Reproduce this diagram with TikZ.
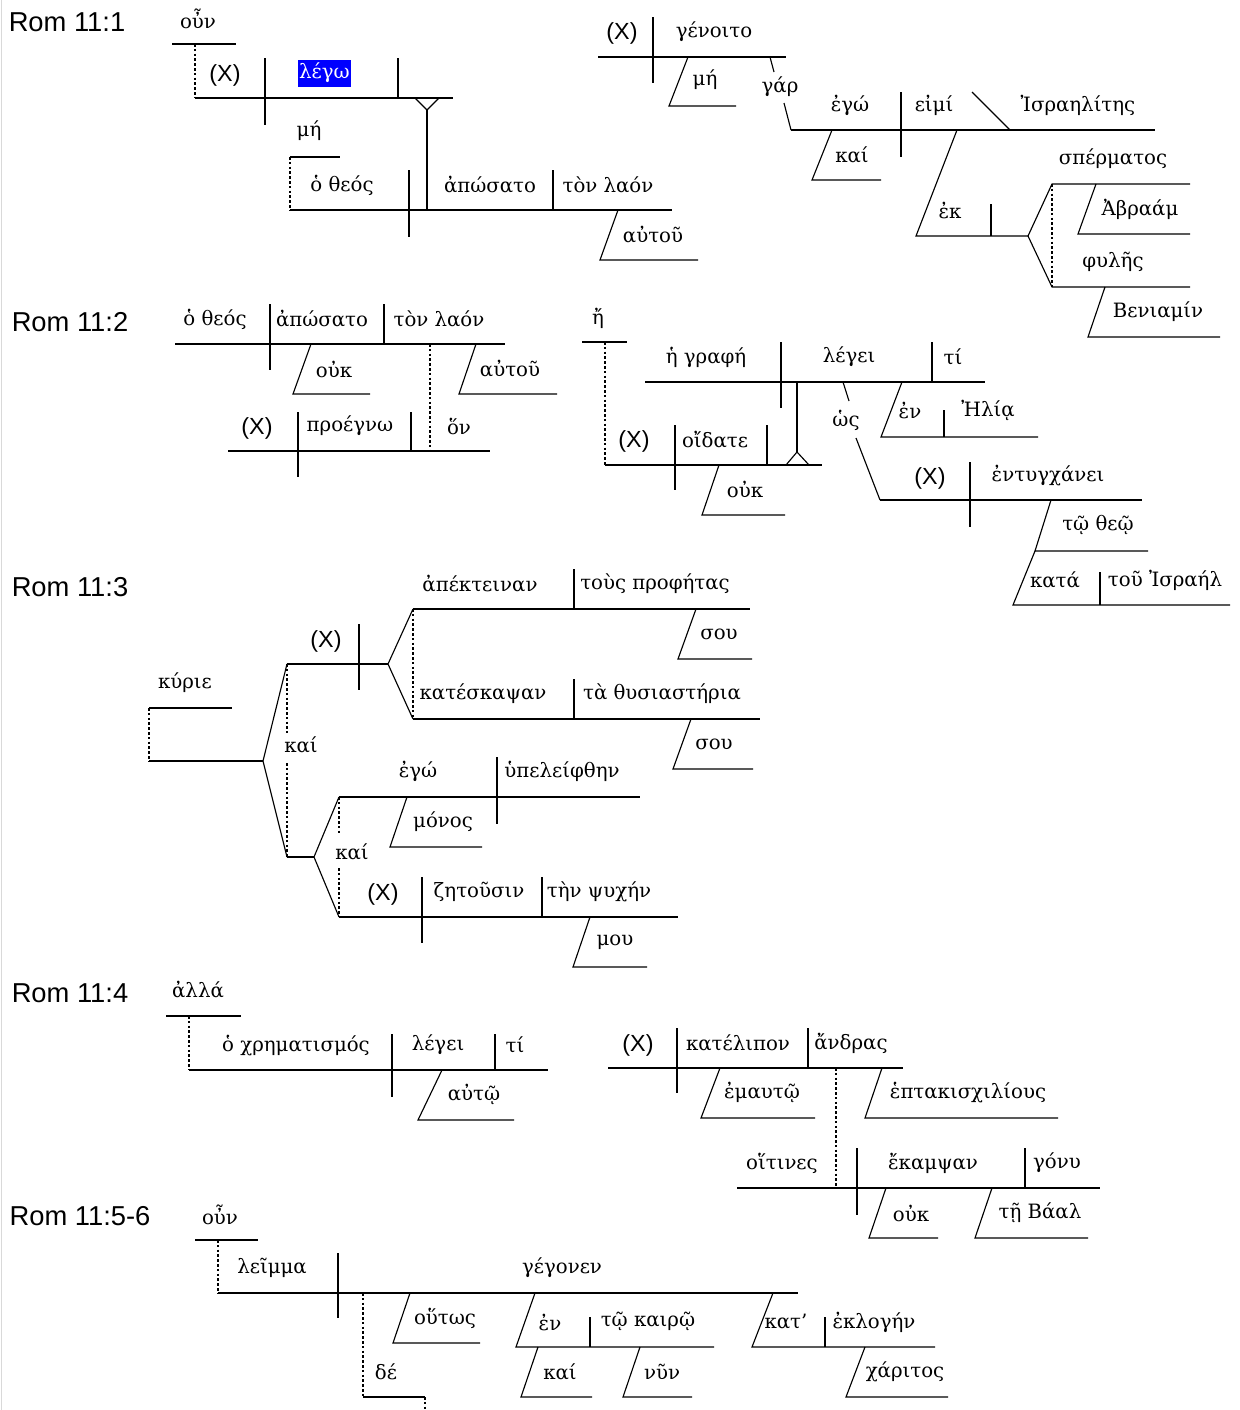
\documentclass[tikz,border=0pt]{standalone}
\usepackage{fontspec}
\newfontfamily\gkfont{DejaVu Serif}
\newfontfamily\labfont{Liberation Sans}
\begin{document}
\begin{tikzpicture}[x=0.75pt,y=-0.75pt,
  gk/.style={font=\gkfont\fontsize{14.8}{16}\selectfont, inner sep=0pt},
  lab/.style={font=\labfont\fontsize{20.5}{22}\selectfont, inner sep=0pt},
  xx/.style={font=\labfont\fontsize{17.5}{20}\selectfont, inner sep=0pt},
  ln/.style={line width=0.85pt},
  dl/.style={line width=0.85pt, dash pattern=on 2pt off 1.6pt}]
\useasboundingbox (0,0) rectangle (1239,1410);
\fill[white] (0,0) rectangle (1239,1410);
\draw[black!15, line width=0.8pt] (1.5,0) -- (1.5,1410);

% ================= Rom 11:1 left
\node[lab] (r1) at (67,22) {Rom 11:1};
\node[gk] (a1) at (198,19) {οὖν};
\draw[ln] (172,44) -- (236,44);
\draw[dl] (195,44) -- (195,98);
\draw[ln] (195,98) -- (453,98);
\node[xx] (a2) at (225,75) {(X)};
\draw[ln] (265,58) -- (265,125);
\fill[blue] (298,60) rectangle (351,87);
\node[gk, text=white] (a3) at (324.5,73) {λέγω};
\draw[ln] (398,58) -- (398,98);
\draw[ln] (415,98) -- (427,110) -- (439,98);
\draw[ln] (427,110) -- (427,210);
\node[gk] (a4) at (309,131) {μή};
\draw[ln] (290,157) -- (340,157);
\draw[dl] (290,157) -- (290,210);
\draw[ln] (290,210) -- (672,210);
\node[gk] (a5) at (342,185) {ὁ θεός};
\draw[ln] (409,170) -- (409,237);
\node[gk] (a6) at (490,185) {ἀπώσατο};
\draw[ln] (553,170) -- (553,210);
\node[gk] (a7) at (608,185) {τὸν λαόν};
\draw[ln] (618,210) -- (600,260) -- (698,260);
\node[gk] (a8) at (653,235) {αὐτοῦ};

% ================= Rom 11:1 right
\node[xx] (b1) at (622,33) {(X)};
\draw[ln] (653,17) -- (653,83);
\node[gk] (b2) at (714,32) {γένοιτο};
\draw[ln] (598,57) -- (786,57);
\draw[ln] (688,57) -- (669,106) -- (736,106);
\node[gk] (b3) at (705,80) {μή};
\draw[ln] (770,57) -- (774,72);
\node[gk] (b4) at (780,87) {γάρ};
\draw[ln] (784,103) -- (791,130);
\draw[ln] (791,130) -- (1155,130);
\node[gk] (b5) at (850,105) {ἐγώ};
\draw[ln] (901,92) -- (901,157);
\node[gk] (b6) at (934,105) {εἰμί};
\draw[ln] (972,92) -- (1010,130);
\node[gk] (b7) at (1078,105) {Ἰσραηλίτης};
\draw[ln] (832,130) -- (812,180) -- (881,180);
\node[gk] (b8) at (852,155) {καί};
\draw[ln] (957,130) -- (916,236) -- (1028,236);
\node[gk] (b9) at (950,211) {ἐκ};
\draw[ln] (991,204) -- (991,236);
\draw[ln] (1028,236) -- (1052,184) -- (1190,184);
\draw[ln] (1028,236) -- (1052,287) -- (1190,287);
\draw[dl] (1052,184) -- (1052,287);
\node[gk] (b10) at (1113,159) {σπέρματος};
\draw[ln] (1096,184) -- (1078,234) -- (1190,234);
\node[gk] (b11) at (1140,209) {Ἀβραάμ};
\node[gk] (b12) at (1113,262) {φυλῆς};
\draw[ln] (1105,287) -- (1088,337) -- (1220,337);
\node[gk] (b13) at (1158,312) {Βενιαμίν};

% ================= Rom 11:2 left
\node[lab] (r2) at (70,322) {Rom 11:2};
\node[gk] (c1) at (215,319) {ὁ θεός};
\draw[ln] (270,304) -- (270,370);
\node[gk] (c2) at (322,319) {ἀπώσατο};
\draw[ln] (384,304) -- (384,344);
\node[gk] (c3) at (439,319) {τὸν λαόν};
\draw[ln] (175,344) -- (505,344);
\draw[ln] (311,344) -- (293,394) -- (370,394);
\node[gk] (c4) at (334,369) {οὐκ};
\draw[ln] (476,344) -- (459,394) -- (557,394);
\node[gk] (c5) at (510,369) {αὐτοῦ};
\draw[dl] (430,344) -- (430,451);
\draw[ln] (228,451) -- (490,451);
\node[xx] (c6) at (257,428) {(X)};
\draw[ln] (298,412) -- (298,477);
\node[gk] (c7) at (350,426) {προέγνω};
\draw[ln] (411,412) -- (411,451);
\node[gk] (c8) at (459,426) {ὅν};

% ================= Rom 11:2 right
\node[gk] (d1) at (598,318) {ἤ};
\draw[ln] (582,342) -- (627,342);
\draw[dl] (605,342) -- (605,465);
\draw[ln] (645,382) -- (985,382);
\node[gk] (d2) at (706,357) {ἡ γραφή};
\draw[ln] (781,342) -- (781,408);
\node[gk] (d3) at (849,357) {λέγει};
\draw[ln] (932,342) -- (932,382);
\node[gk] (d4) at (953,357) {τί};
\draw[ln] (797,382) -- (797,452);
\draw[ln] (786,465) -- (797,452) -- (809,465);
\draw[ln] (605,465) -- (822,465);
\node[xx] (d5) at (634,441) {(X)};
\draw[ln] (675,425) -- (675,490);
\node[gk] (d6) at (715,440) {οἴδατε};
\draw[ln] (767,425) -- (767,465);
\draw[ln] (719,465) -- (702,515) -- (785,515);
\node[gk] (d7) at (745,489) {οὐκ};
\draw[ln] (843,382) -- (849,401);
\node[gk] (d8) at (846,420) {ὡς};
\draw[ln] (856,438) -- (880,500);
\draw[ln] (902,382) -- (881,437) -- (1038,437);
\node[gk] (d9) at (910,411) {ἐν};
\draw[ln] (944,410) -- (944,437);
\node[gk] (d10) at (988,411) {Ἠλίᾳ};
\draw[ln] (880,500) -- (1142,500);
\node[xx] (d11) at (930,478) {(X)};
\draw[ln] (970,462) -- (970,527);
\node[gk] (d12) at (1048,476) {ἐντυγχάνει};
\draw[ln] (1051,500) -- (1035,551) -- (1148,551);
\node[gk] (d13) at (1098,525) {τῷ θεῷ};
\draw[ln] (1035,551) -- (1013,605) -- (1230,605);
\node[gk] (d14) at (1055,580) {κατά};
\draw[ln] (1100,572) -- (1100,605);
\node[gk] (d15) at (1165,580) {τοῦ Ἰσραήλ};

% ================= Rom 11:3
\node[lab] (r3) at (70,587) {Rom 11:3};
\node[gk] (e1) at (185,683) {κύριε};
\draw[ln] (149,708) -- (232,708);
\draw[dl] (149,708) -- (149,761);
\draw[ln] (149,761) -- (263,761);
\draw[ln] (287,664) -- (263,761) -- (287,857);
\draw[dl] (287,664) -- (287,733);
\draw[dl] (287,763) -- (287,857);
\node[gk] (e2) at (301,745) {καί};
\draw[ln] (287,664) -- (388,664);
\node[xx] (e3) at (326,641) {(X)};
\draw[ln] (359,624) -- (359,690);
\draw[ln] (413,609) -- (388,664) -- (413,719);
\draw[dl] (413,609) -- (413,719);
\draw[ln] (413,609) -- (750,609);
\node[gk] (e4) at (480,584) {ἀπέκτειναν};
\draw[ln] (574,569) -- (574,609);
\node[gk] (e5) at (655,584) {τοὺς προφήτας};
\draw[ln] (696,609) -- (678,659) -- (752,659);
\node[gk] (e6) at (719,634) {σου};
\draw[ln] (413,719) -- (760,719);
\node[gk] (e7) at (483,694) {κατέσκαψαν};
\draw[ln] (574,679) -- (574,719);
\node[gk] (e8) at (662,694) {τὰ θυσιαστήρια};
\draw[ln] (691,719) -- (673,769) -- (753,769);
\node[gk] (e9) at (714,744) {σου};
\draw[ln] (287,857) -- (314,857);
\draw[ln] (339,797) -- (314,857) -- (339,917);
\draw[dl] (339,797) -- (339,835);
\draw[dl] (339,868) -- (339,917);
\node[gk] (e10) at (352,852) {καί};
\draw[ln] (339,797) -- (640,797);
\node[gk] (e11) at (418,771) {ἐγώ};
\draw[ln] (497,757) -- (497,824);
\node[gk] (e12) at (562,771) {ὑπελείφθην};
\draw[ln] (407,797) -- (390,847) -- (482,847);
\node[gk] (e13) at (443,822) {μόνος};
\draw[ln] (339,917) -- (678,917);
\node[xx] (e14) at (383,894) {(X)};
\draw[ln] (422,877) -- (422,943);
\node[gk] (e15) at (479,892) {ζητοῦσιν};
\draw[ln] (542,877) -- (542,917);
\node[gk] (e16) at (599,892) {τὴν ψυχήν};
\draw[ln] (590,917) -- (573,967) -- (647,967);
\node[gk] (e17) at (615,942) {μου};

% ================= Rom 11:4
\node[lab] (r4) at (70,993) {Rom 11:4};
\node[gk] (f1) at (198,990) {ἀλλά};
\draw[ln] (166,1016) -- (241,1016);
\draw[dl] (189,1016) -- (189,1070);
\draw[ln] (189,1070) -- (548,1070);
\node[gk] (f2) at (296,1045) {ὁ χρηματισμός};
\draw[ln] (392,1034) -- (392,1097);
\node[gk] (f3) at (438,1045) {λέγει};
\draw[ln] (495,1034) -- (495,1070);
\node[gk] (f4) at (515,1045) {τί};
\draw[ln] (442,1070) -- (418,1120) -- (514,1120);
\node[gk] (f5) at (474,1095) {αὐτῷ};
\draw[ln] (608,1068) -- (903,1068);
\node[xx] (f6) at (638,1045) {(X)};
\draw[ln] (677,1028) -- (677,1093);
\node[gk] (f7) at (738,1043) {κατέλιπον};
\draw[ln] (808,1028) -- (808,1068);
\node[gk] (f8) at (851,1043) {ἄνδρας};
\draw[ln] (720,1068) -- (701,1118) -- (815,1118);
\node[gk] (f9) at (762,1093) {ἐμαυτῷ};
\draw[ln] (882,1068) -- (865,1118) -- (1058,1118);
\node[gk] (f10) at (968,1092) {ἑπτακισχιλίους};
\draw[dl] (836,1068) -- (836,1188);
\draw[ln] (737,1188) -- (1100,1188);
\node[gk] (f11) at (782,1163) {οἵτινες};
\draw[ln] (857,1148) -- (857,1215);
\node[gk] (f12) at (933,1163) {ἔκαμψαν};
\draw[ln] (1025,1148) -- (1025,1188);
\node[gk] (f13) at (1057,1163) {γόνυ};
\draw[ln] (886,1188) -- (869,1238) -- (938,1238);
\node[gk] (f14) at (911,1213) {οὐκ};
\draw[ln] (992,1188) -- (975,1238) -- (1088,1238);
\node[gk] (f15) at (1040,1213) {τῇ Βάαλ};

% ================= Rom 11:5-6
\node[lab] (r5) at (80,1216) {Rom 11:5-6};
\node[gk] (g1) at (220,1215) {οὖν};
\draw[ln] (195,1240) -- (258,1240);
\draw[dl] (218,1240) -- (218,1293);
\draw[ln] (218,1293) -- (798,1293);
\node[gk] (g2) at (272,1268) {λεῖμμα};
\draw[ln] (338,1253) -- (338,1318);
\node[gk] (g3) at (562,1268) {γέγονεν};
\draw[dl] (363,1293) -- (363,1397);
\node[gk] (g4) at (386,1372) {δέ};
\draw[ln] (363,1397) -- (425,1397);
\draw[dl] (425,1397) -- (425,1410);
\draw[ln] (410,1293) -- (393,1343) -- (480,1343);
\node[gk] (g5) at (445,1318) {οὕτως};
\draw[ln] (535,1293) -- (516,1347) -- (714,1347);
\node[gk] (g6) at (550,1322) {ἐν};
\draw[ln] (590,1317) -- (590,1347);
\node[gk] (g7) at (648,1322) {τῷ καιρῷ};
\draw[ln] (538,1347) -- (521,1397) -- (592,1397);
\node[gk] (g8) at (560,1372) {καί};
\draw[ln] (640,1347) -- (623,1397) -- (692,1397);
\node[gk] (g9) at (662,1372) {νῦν};
\draw[ln] (773,1293) -- (752,1347) -- (935,1347);
\node[gk] (g10) at (786,1322) {κατ’};
\draw[ln] (825,1317) -- (825,1347);
\node[gk] (g11) at (874,1322) {ἐκλογήν};
\draw[ln] (865,1347) -- (846,1397) -- (948,1397);
\node[gk] (g12) at (905,1372) {χάριτος};
\end{tikzpicture}
\end{document}
